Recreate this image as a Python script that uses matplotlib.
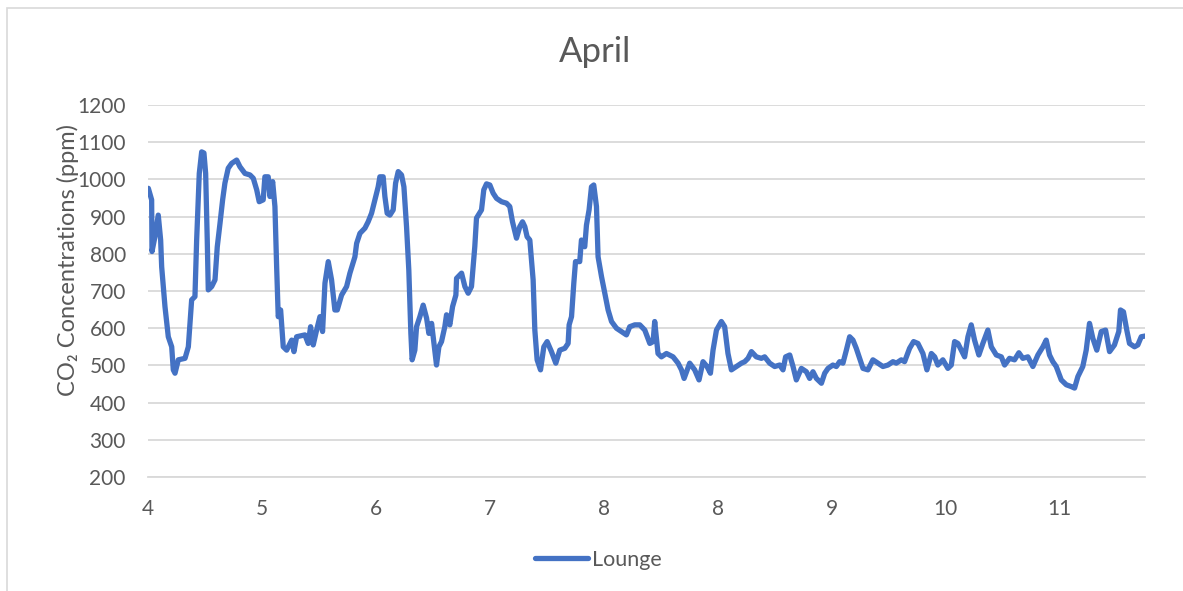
import matplotlib
matplotlib.use("Agg")
import matplotlib.pyplot as plt
from matplotlib.patches import Rectangle

# Lounge CO2 readings, April (time in days from the start of the record)
days = [
    0.003, 0.032, 0.035, 0.061, 0.090, 0.111, 0.120, 0.149, 0.178, 0.208,
    0.222, 0.237, 0.266, 0.325, 0.354, 0.383, 0.412, 0.427, 0.450, 0.471,
    0.491, 0.506, 0.520, 0.529, 0.559, 0.588, 0.608, 0.632, 0.655, 0.675,
    0.704, 0.734, 0.778, 0.807, 0.851, 0.895, 0.924, 0.954, 0.976, 1.011,
    1.026, 1.055, 1.070, 1.094, 1.114, 1.129, 1.143, 1.164, 1.187, 1.217,
    1.261, 1.281, 1.304, 1.377, 1.406, 1.427, 1.450, 1.480, 1.509, 1.532,
    1.553, 1.582, 1.611, 1.640, 1.661, 1.699, 1.743, 1.772, 1.816, 1.831,
    1.860, 1.904, 1.932, 1.962, 1.991, 2.020, 2.035, 2.064, 2.079, 2.099,
    2.123, 2.152, 2.173, 2.196, 2.225, 2.246, 2.269, 2.289, 2.307, 2.318,
    2.342, 2.357, 2.386, 2.415, 2.445, 2.465, 2.489, 2.503, 2.532, 2.553,
    2.576, 2.605, 2.620, 2.649, 2.673, 2.702, 2.708, 2.752, 2.781, 2.810,
    2.839, 2.868, 2.883, 2.927, 2.947, 2.971, 3.000, 3.029, 3.059, 3.103,
    3.146, 3.175, 3.199, 3.234, 3.263, 3.287, 3.307, 3.327, 3.351, 3.380,
    3.395, 3.415, 3.445, 3.474, 3.503, 3.541, 3.579, 3.614, 3.658, 3.687,
    3.696, 3.717, 3.737, 3.752, 3.789, 3.804, 3.833, 3.848, 3.871, 3.892,
    3.912, 3.936, 3.950, 3.980, 4.009, 4.038, 4.068, 4.111, 4.155, 4.199,
    4.228, 4.272, 4.316, 4.360, 4.404, 4.433, 4.447, 4.476, 4.506, 4.550,
    4.608, 4.652, 4.682, 4.705, 4.754, 4.798, 4.836, 4.871, 4.906, 4.936,
    4.959, 4.989, 5.032, 5.061, 5.090, 5.120, 5.164, 5.208, 5.237, 5.266,
    5.296, 5.339, 5.383, 5.412, 5.456, 5.500, 5.544, 5.573, 5.596, 5.632,
    5.661, 5.690, 5.734, 5.778, 5.807, 5.836, 5.866, 5.910, 5.939, 5.968,
    6.011, 6.041, 6.070, 6.099, 6.129, 6.158, 6.187, 6.216, 6.246, 6.275,
    6.318, 6.362, 6.406, 6.450, 6.494, 6.538, 6.567, 6.611, 6.640, 6.684,
    6.719, 6.757, 6.801, 6.836, 6.875, 6.904, 6.932, 6.976, 7.020, 7.050,
    7.079, 7.108, 7.138, 7.167, 7.196, 7.225, 7.254, 7.292, 7.327, 7.371,
    7.401, 7.445, 7.489, 7.518, 7.561, 7.605, 7.643, 7.678, 7.722, 7.766,
    7.810, 7.854, 7.883, 7.912, 7.941, 7.971, 8.015, 8.059, 8.103, 8.132,
    8.161, 8.204, 8.234, 8.263, 8.292, 8.327, 8.366, 8.404, 8.439, 8.482,
    8.520, 8.535, 8.561, 8.590, 8.614, 8.658, 8.687, 8.717, 8.752,
]
co2_ppm = [
    976, 945, 806, 846, 904, 837, 765, 658, 577, 550,
    488, 479, 515, 519, 550, 676, 685, 837, 1016, 1074,
    1071, 1016, 837, 703, 712, 730, 819, 882, 945, 990,
    1030, 1043, 1052, 1034, 1016, 1012, 1003, 972, 940, 945,
    1007, 1007, 954, 994, 927, 765, 631, 649, 550, 541,
    568, 537, 577, 582, 559, 604, 555, 595, 631, 591,
    721, 779, 730, 649, 649, 689, 712, 748, 792, 828,
    855, 869, 886, 909, 945, 980, 1007, 1007, 954, 909,
    904, 918, 990, 1021, 1012, 980, 873, 756, 586, 515,
    541, 604, 631, 662, 627, 586, 613, 577, 501, 550,
    564, 604, 636, 609, 658, 689, 734, 748, 712, 694,
    712, 819, 896, 918, 972, 988, 985, 963, 949, 940,
    936, 927, 886, 842, 873, 886, 873, 846, 837, 730,
    595, 515, 488, 550, 564, 537, 506, 541, 546, 559,
    609, 631, 721, 779, 779, 837, 819, 877, 918, 980,
    985, 927, 792, 739, 694, 649, 618, 600, 591, 582,
    604, 609, 609, 595, 559, 564, 618, 532, 523, 532,
    523, 506, 488, 465, 506, 488, 461, 510, 497, 479,
    541, 595, 618, 604, 532, 488, 497, 506, 510, 519,
    537, 523, 519, 523, 506, 497, 501, 488, 523, 528,
    497, 461, 492, 483, 465, 483, 465, 452, 479, 492,
    501, 497, 510, 506, 541, 577, 568, 546, 519, 492,
    488, 515, 506, 497, 501, 510, 506, 515, 510, 546,
    564, 559, 532, 488, 532, 523, 501, 515, 492, 501,
    564, 559, 541, 523, 577, 609, 568, 528, 559, 595,
    550, 528, 523, 501, 519, 515, 534, 519, 523, 497,
    528, 550, 568, 528, 510, 497, 461, 448, 443, 439,
    470, 497, 541, 613, 573, 541, 591, 595, 537, 555,
    591, 649, 644, 595, 559, 550, 555, 577, 579,
]

tick_positions = [0, 1, 2, 3, 4, 5, 6, 7, 8]
tick_labels = ["4", "5", "6", "7", "8", "8", "9", "10", "11"]
y_ticks = [200, 300, 400, 500, 600, 700, 800, 900, 1000, 1100, 1200]

FONT = ["Lato", "DejaVu Sans"]
plt.rcParams["font.family"] = FONT
TEXT = "#595959"
GRID = "#D9D9D9"
BLUE = "#4472C4"

W, H = 1183, 591
fig = plt.figure(figsize=(W / 100, H / 100), dpi=100)
ax = fig.add_axes([148 / W, 1 - 477 / H, (1145 - 148) / W, (477 - 105) / H])

line, = ax.plot(days, co2_ppm, color=BLUE, lw=3.8, solid_joinstyle="round",
                solid_capstyle="round", label="Lounge", zorder=3)

ax.set_xlim(0, 8.75)
ax.set_ylim(200, 1200)
ax.set_yticks(y_ticks)
ax.set_xticks(tick_positions)
ax.set_xticklabels(tick_labels)
ax.grid(axis="y", color=GRID, lw=1.3, zorder=0)
for side in ("top", "right", "left"):
    ax.spines[side].set_visible(False)
ax.spines["bottom"].set_color(GRID)
ax.spines["bottom"].set_linewidth(1.3)
ax.tick_params(axis="both", length=0, colors=TEXT, labelsize=15)
ax.tick_params(axis="y", pad=16)
ax.tick_params(axis="x", pad=16)

fig.text(68 / W, 1 - 260 / H, "CO₂ Concentrations (ppm)", rotation=90,
         ha="center", va="center", fontsize=17, color=TEXT)
fig.text(595 / W, 1 - 52 / H, "April", ha="center", va="center",
         fontsize=25, color=TEXT)

fig.legend(handles=[line], loc="center", bbox_to_anchor=(598 / W, 1 - 560 / H),
           frameon=False, fontsize=15.5, handlelength=2.5, handletextpad=0.15,
           labelcolor=TEXT)

# light chart border
fig.patches.append(Rectangle((7 / W, -0.05), 1.2, 1 - 8 / H + 0.05,
                             transform=fig.transFigure, fill=False,
                             edgecolor=GRID, lw=1.2))

fig.savefig("out.png", dpi=100)
